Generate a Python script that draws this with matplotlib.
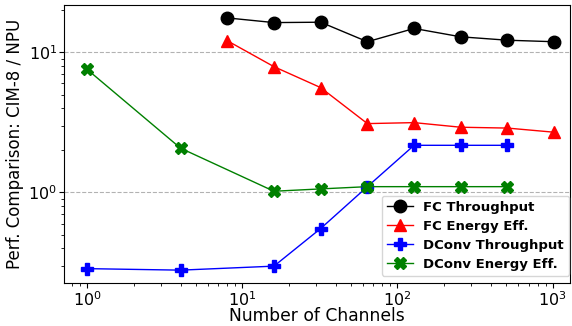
import numpy as np
import matplotlib.pyplot as plt

# Channel counts
fc_channels = [8, 16, 32, 64, 128, 256, 512, 1024]
dconv_channels = [1, 4, 16, 32, 64, 128, 256, 512]

# CIM-8 / NPU ratios
fc_throughput = [17.6, 16.3, 16.4, 11.9, 14.8, 12.9, 12.2, 11.9]
fc_energy = [12.1, 7.9, 5.6, 3.1, 3.15, 2.92, 2.88, 2.69]
dconv_throughput = [0.286, 0.279, 0.298, 0.553, 1.10, 2.17, 2.17, 2.17]
dconv_energy = [7.55, 2.07, 1.02, 1.06, 1.10, 1.10, 1.10, 1.10]

fig, ax = plt.subplots(figsize=(5.72, 3.26), dpi=100)

ax.plot(fc_channels, fc_throughput, marker='o', color='black', lw=1, markersize=9, label='FC Throughput')
ax.plot(fc_channels, fc_energy, marker='^', color='red', lw=1, markersize=9, label='FC Energy Eff.')
ax.plot(dconv_channels, dconv_throughput, marker='P', color='blue', lw=1, markersize=9, label='DConv Throughput')
ax.plot(dconv_channels, dconv_energy, marker='X', color='green', lw=1, markersize=9, label='DConv Energy Eff.')

ax.set_xscale('log')
ax.set_yscale('log')
ax.set_xlim(0.71, 1300)
ax.set_ylim(0.226, 21.8)

ax.set_xlabel('Number of Channels', fontsize=12.3, labelpad=-1)
ax.set_ylabel('Perf. Comparison: CIM-8 / NPU', fontsize=12, labelpad=3)
ax.tick_params(axis='both', which='major', labelsize=11.5, pad=1.5)
ax.yaxis.grid(True, which='major', linestyle='--', color='gray', alpha=0.6, lw=0.8)

# legend sits in the lower right corner, close to the right spine
ax.legend(loc='lower right', bbox_to_anchor=(0.998, 0.025), borderaxespad=0,
          prop={'weight': 'bold', 'size': 9.5}, borderpad=0.4,
          labelspacing=0.45, handletextpad=0.75)

plt.subplots_adjust(left=0.112, right=0.997, top=0.985, bottom=0.132)
plt.savefig('out.png')
